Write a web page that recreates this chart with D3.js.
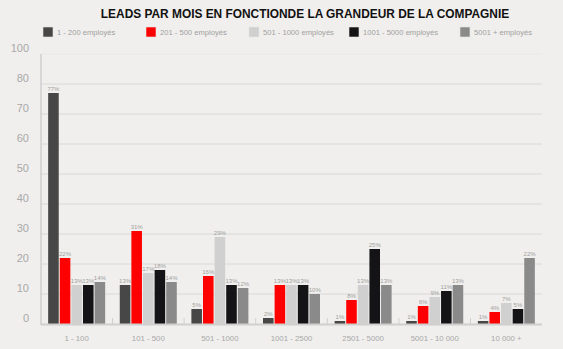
<!DOCTYPE html>
<html><head><meta charset="utf-8">
<script src="https://cdn.jsdelivr.net/npm/d3@7"></script>
<style>
html,body{margin:0;padding:0;background:#f0efed;}
svg{display:block;}
</style></head>
<body>
<svg id="chart" width="563" height="349"></svg>
<script>
const title = "LEADS PAR MOIS EN FONCTIONDE LA GRANDEUR DE LA COMPAGNIE";
const categories = ["1 - 100","101 - 500","501 - 1000","1001 - 2500","2501 - 5000","5001 - 10 000","10 000 +"];
const seriesNames = ["1 - 200 employés","201 - 500 employés","501 - 1000 employés","1001 - 5000 employés","5001 + employés"];
const seriesColors = ["#474747","#ff0000","#d0d0d0","#141316","#8a8a8a"];
const s1 = [77,13,5,2,1,1,1];
const s2 = [22,31,16,13,8,6,4];
const s3 = [13,17,29,13,13,9,7];
const s4 = [13,18,13,13,25,11,5];
const s5 = [14,14,12,10,13,13,22];
const yTickValues = [0,10,20,30,40,50,60,70,80,90];
const yTickLabels = ["0","10","20","30","40","50","60","70","80","100"];
const legendX = [43,146,249,349,460];

const series = [s1,s2,s3,s4,s5];
const svg = d3.select("#chart");
const mLeft = 41, mRight = 542, mTop = 54, mBottom = 324;

const x0 = d3.scaleBand().domain(categories).range([mLeft,mRight]).paddingInner(0.204).paddingOuter(0.1);
const x1 = d3.scaleBand().domain(d3.range(series.length)).range([0,x0.bandwidth()]).paddingInner(0.09);
const y = d3.scaleLinear().domain([0,90]).range([mBottom,mTop]);

// title
svg.append("text").attr("x",305).attr("y",18).attr("text-anchor","middle")
  .attr("font-family","Liberation Sans, Arial, sans-serif").attr("font-weight","bold")
  .attr("font-size",11.9).attr("fill","#111").text(title);

// legend
const leg = svg.append("g");
seriesNames.forEach((n,i)=>{
  leg.append("rect").attr("x",legendX[i]).attr("y",27).attr("width",10).attr("height",10)
    .attr("fill",seriesColors[i]).attr("stroke","#e4e4e4").attr("stroke-width",0.6);
  leg.append("text").attr("x",legendX[i]+14).attr("y",35).attr("font-family","Liberation Sans, Arial, sans-serif")
    .attr("font-size",7.6).attr("fill","#a0a0a0").text(n);
});

// gridlines
const grid = svg.append("g");
yTickValues.filter(v=>v>0).forEach(v=>{
  grid.append("line").attr("x1",mLeft).attr("x2",mRight).attr("y1",y(v)).attr("y2",y(v))
    .attr("stroke", v===90 ? "#e9e8e6" : "#d9d8d6").attr("stroke-width",1);
});

// y axis via d3.axisLeft
const yAxis = d3.axisLeft(y).tickValues(yTickValues).tickSize(0).tickPadding(0)
  .tickFormat((d,i)=>yTickLabels[i]);
const ya = svg.append("g").attr("transform",`translate(29,0)`).call(yAxis);
ya.select(".domain").remove();
ya.selectAll("text").attr("font-family","Liberation Sans, Arial, sans-serif").attr("font-size",11)
  .attr("fill","#a9a9a9").attr("dy","-0.2em");

svg.append("line").attr("x1",mLeft).attr("x2",mLeft).attr("y1",y(90)).attr("y2",mBottom+1)
  .attr("stroke","#cfcfcf").attr("stroke-width",1.5);

// bars
const groups = svg.append("g").selectAll("g").data(categories).join("g")
  .attr("transform",d=>`translate(${x0(d)},0)`);
groups.each(function(cat,ci){
  const g = d3.select(this);
  series.forEach((s,si)=>{
    const v = s[ci];
    g.append("rect").attr("x",x1(si)).attr("y",y(v)).attr("width",x1.bandwidth())
      .attr("height",mBottom-y(v)).attr("fill",seriesColors[si]);
    g.append("text").attr("x",x1(si)+x1.bandwidth()/2).attr("y",y(v)-2).attr("text-anchor","middle")
      .attr("font-family","Liberation Sans, Arial, sans-serif").attr("font-size",6)
      .attr("fill","#a0a0a0").text(v+"%");
  });
});

// x axis
const step = x0.step();
const xa = svg.append("g");
xa.append("line").attr("x1",mLeft).attr("x2",mRight).attr("y1",mBottom+0.5).attr("y2",mBottom+0.5)
  .attr("stroke","#cfcfcf").attr("stroke-width",2);
categories.forEach((c,i)=>{
  if(i>0){
    const tx = x0(c) - x0.paddingInner()*step/2;
    xa.append("line").attr("x1",tx).attr("x2",tx).attr("y1",mBottom-6).attr("y2",mBottom)
      .attr("stroke","#d0d0d0").attr("stroke-width",1);
  }
  xa.append("text").attr("x",x0(c)+x0.bandwidth()/2).attr("y",340.5).attr("text-anchor","middle")
    .attr("font-family","Liberation Sans, Arial, sans-serif").attr("font-size",7.8)
    .attr("fill","#a8a8a8").text(c);
});
</script>
</body></html>
